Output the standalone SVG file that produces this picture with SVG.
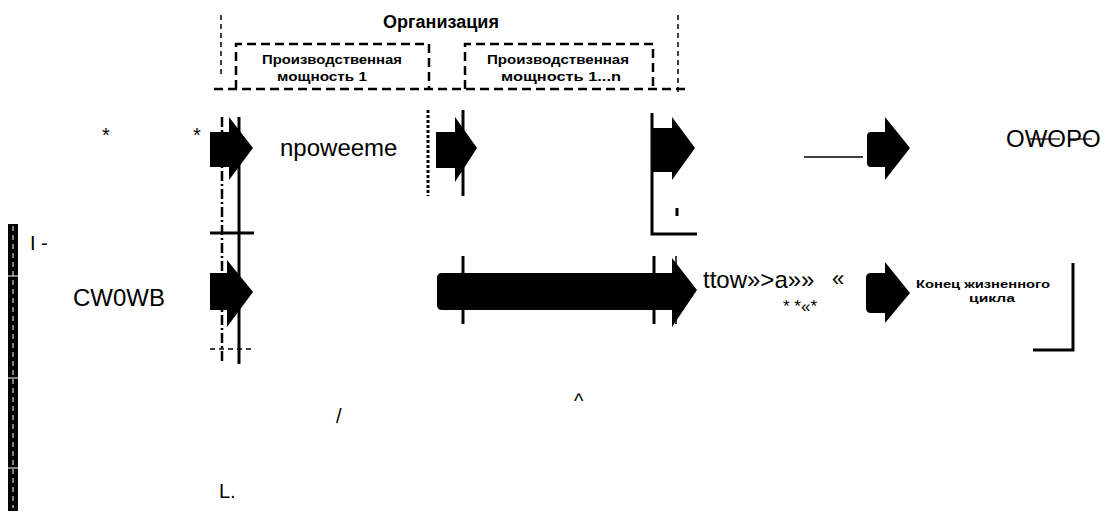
<svg xmlns="http://www.w3.org/2000/svg" width="1117" height="512" viewBox="0 0 1117 512">
<style>
text{font-family:"Liberation Sans",Arial,sans-serif;fill:#000}
.big{font-size:24px}
.b{font-weight:bold}
.sm{font-size:12px;font-weight:bold}
.arr{fill:#000;stroke:none}
.solid{stroke:#000;stroke-width:3;fill:none}
.thin{stroke:#000;stroke-width:1.5;fill:none}
.dash{stroke:#000;stroke-width:2.5;fill:none;stroke-dasharray:9 5}
.dashdot{stroke:#000;stroke-width:2.5;fill:none;stroke-dasharray:10 3 2 3}
.dot{stroke:#000;stroke-width:3;fill:none;stroke-dasharray:3 2}
.fine{stroke:#000;stroke-width:1.5;fill:none;stroke-dasharray:5 4}
</style>
<rect width="1117" height="512" fill="#fff"/>

<g id="organization">
  <text x="441" y="28" text-anchor="middle" class="b" font-size="18">Организация</text>
  <line class="fine" x1="221" y1="15" x2="221" y2="75"/>
  <line class="fine" x1="678" y1="15" x2="678" y2="92"/>
  <line class="dash" x1="214" y1="89" x2="686" y2="89"/>
</g>

<g id="capacity1">
  <path class="dash" d="M236,89 V44 H429 V89"/>
  <text x="332" y="64" text-anchor="middle" class="sm" textLength="140" lengthAdjust="spacingAndGlyphs">Производственная</text>
  <text x="322" y="81" text-anchor="middle" class="sm" textLength="90" lengthAdjust="spacingAndGlyphs">мощность 1</text>
</g>

<g id="capacityN">
  <path class="dash" d="M465,89 V44 H653 V89"/>
  <text x="558" y="64" text-anchor="middle" class="sm" textLength="142" lengthAdjust="spacingAndGlyphs">Производственная</text>
  <text x="561" y="81" text-anchor="middle" class="sm" textLength="120" lengthAdjust="spacingAndGlyphs">мощность 1...n</text>
</g>

<g id="connectors">
  <line class="dashdot" x1="222" y1="117" x2="222" y2="364"/>
  <line class="solid" x1="239" y1="117" x2="239" y2="364"/>
  <line class="solid" x1="210" y1="233" x2="254" y2="233"/>
  <line class="fine" x1="210" y1="349" x2="251" y2="349"/>
  <line class="dot" x1="428" y1="110" x2="428" y2="196"/>
  <line class="solid" x1="463" y1="110" x2="463" y2="196"/>
  <line class="solid" x1="463" y1="256" x2="463" y2="324"/>
  <path class="solid" d="M652,113 V234 H697"/>
  <line class="solid" x1="677" y1="208" x2="677" y2="216"/>
  <line class="solid" x1="654" y1="256" x2="654" y2="324"/>
  <line class="thin" x1="676" y1="256" x2="676" y2="324"/>
  <line class="thin" x1="804" y1="157" x2="863" y2="157"/>
  <path d="M1073,263 V350 H1033" stroke="#000" stroke-width="3" fill="none"/>
</g>

<g id="arrows-row1">
  <path class="arr" d="M210,132 H229 V117 L253,148 L229,180 V167 H210 Z"/>
  <path class="arr" d="M436,132 H455 V117 L477,148 L455,182 V168 H436 Z"/>
  <path class="arr" d="M652,128 H672 V117 L695,148 L672,180 V172 H652 Z"/>
  <path class="arr" d="M871,132 H885 V117 L910,148 L885,180 V167 H871 Q867,167 867,163 V136 Q867,132 871,132 Z"/>
</g>

<g id="arrows-row2">
  <path class="arr" d="M210,273 H227 V260 L253,292 L227,327 V310 H210 Z"/>
  <path class="arr" d="M442,273 H672 V258 L697,290 L672,327 V310 H442 Q437,310 437,305 V278 Q437,273 442,273 Z"/>
  <path class="arr" d="M871,273 H885 V262 L910,293 L885,323 V313 H871 Q866,313 866,308 V278 Q866,273 871,273 Z"/>
</g>

<g id="labels">
  <text x="102" y="142" font-size="20">*</text>
  <text x="193" y="142" font-size="20">*</text>
  <text x="280" y="156" class="big">npoweeme</text>
  <text x="1006" y="147" class="big">OWOPO</text>
  <line x1="1030" y1="139" x2="1060" y2="139" stroke="#000" stroke-width="1.2"/>
  <line x1="1068" y1="139" x2="1092" y2="139" stroke="#000" stroke-width="1.2"/>
  <text x="30" y="250" font-size="20">I -</text>
  <text x="73" y="306" class="big">CW0WB</text>
  <text x="703" y="288" class="big">ttow»&gt;a»»</text>
  <text x="832" y="286" font-size="22">«</text>
  <text x="783" y="312" font-size="17">* *«*</text>
  <text x="983" y="288" text-anchor="middle" class="b" font-size="11" textLength="134" lengthAdjust="spacingAndGlyphs">Конец жизненного</text>
  <text x="992" y="302" text-anchor="middle" class="b" font-size="11" textLength="46" lengthAdjust="spacingAndGlyphs">цикла</text>
  <text x="574" y="408" font-size="20">^</text>
  <text x="336" y="423" font-size="20">/</text>
  <text x="219" y="498" font-size="20">L.</text>
</g>

<g id="left-bar">
  <rect x="8" y="224" width="10" height="287" fill="#000"/>
  <line x1="13" y1="226" x2="13" y2="508" stroke="#fff" stroke-width="1" stroke-dasharray="5 4"/>
  <line x1="8" y1="276" x2="18" y2="276" stroke="#fff" stroke-width="1"/>
  <line x1="8" y1="378" x2="18" y2="378" stroke="#fff" stroke-width="1"/>
  <line x1="8" y1="468" x2="18" y2="468" stroke="#fff" stroke-width="1"/>
</g>
</svg>
